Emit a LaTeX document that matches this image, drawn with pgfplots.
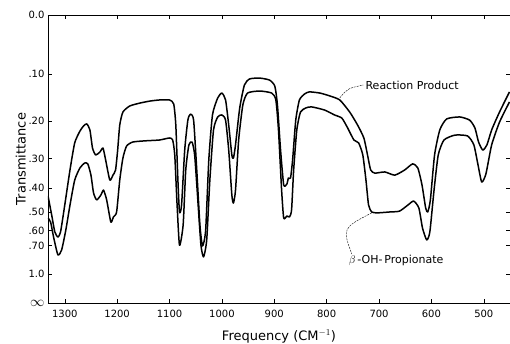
\documentclass[border=0pt]{standalone}
\usepackage{fontspec}
\setmainfont{DejaVu Sans}
\usepackage{pgfplots}
\pgfplotsset{compat=1.18}
\begin{document}
\begin{tikzpicture}
\begin{axis}[name=ax,
  scale only axis, width=462pt, height=288pt,
  x dir=reverse, xmin=450, xmax=1332, ymin=0, ymax=1,
  xtick={500,600,...,1300},
  ytick={0,0.1,0.1995,0.2512,0.3162,0.3981,0.5012,0.631,0.7943,1},
  yticklabels={{\fontsize{14}{14}\selectfont$\infty$},1.0,.70,.60,.50,.40,.30,.20,.10,0.0},
  /pgf/number format/1000 sep={},
  /pgf/number format/assume math mode=true,
  tick label style={font=\fontsize{10}{12}\selectfont},
  xticklabel style={yshift=-4pt},
  xlabel={Frequency (CM$^{-1}$)},
  ylabel={Transmittance},
  label style={font=\fontsize{13}{15}\selectfont},
  xlabel style={yshift=-5pt},
  ylabel style={yshift=-4pt},
  axis line style={line width=0.5pt},
  tick style={line width=0.5pt, black},
  major tick length=4pt,
]
% Reaction Product
\addplot[black, line width=1.5pt, smooth, tension=0.35, line join=round, no markers] coordinates {
(1332,0.372)(1325,0.306)(1319,0.247)(1313,0.229)(1308,0.247)(1300,0.340)(1290,0.462)(1281,0.556)
(1271,0.597)(1264,0.615)(1258,0.622)(1252,0.601)(1247,0.538)(1241,0.514)(1233,0.524)(1227,0.538)
(1222,0.497)(1214,0.427)(1208,0.444)(1203,0.462)(1199,0.531)(1195,0.618)(1189,0.663)(1176,0.684)
(1157,0.694)(1138,0.701)(1119,0.705)(1100,0.705)(1092,0.691)(1088,0.618)(1084,0.427)(1081,0.316)
(1077,0.340)(1071,0.531)(1065,0.635)(1060,0.656)(1054,0.635)(1048,0.462)(1042,0.271)(1037,0.198)
(1031,0.253)(1025,0.497)(1018,0.653)(1008,0.712)(1000,0.729)(993,0.705)(987,0.618)(981,0.514)
(978,0.503)(974,0.549)(966,0.677)(957,0.757)(947,0.778)(928,0.781)(909,0.774)(899,0.753)
(894,0.688)(888,0.531)(882,0.410)(876,0.413)(873,0.434)(869,0.434)(865,0.497)(859,0.635)
(852,0.705)(842,0.726)(833,0.733)(813,0.729)(794,0.719)(775,0.705)(756,0.663)(741,0.618)
(729,0.573)(722,0.514)(716,0.462)(708,0.451)(689,0.455)(670,0.444)(651,0.462)(636,0.483)
(626,0.469)(618,0.410)(611,0.330)(607,0.316)(602,0.358)(594,0.514)(584,0.601)(571,0.639)
(546,0.646)(527,0.635)(517,0.608)(510,0.559)(502,0.531)(494,0.549)(485,0.601)(470,0.663)(451,0.733)
};
% beta-OH-Propionate
\addplot[black, line width=1.5pt, smooth, tension=0.35, line join=round, no markers] coordinates {
(1332,0.295)(1327,0.281)(1321,0.226)(1313,0.167)(1306,0.184)(1298,0.253)(1290,0.340)(1281,0.427)
(1271,0.469)(1262,0.486)(1256,0.483)(1250,0.444)(1245,0.382)(1239,0.358)(1231,0.375)(1226,0.392)
(1220,0.358)(1212,0.281)(1207,0.299)(1201,0.316)(1195,0.427)(1189,0.503)(1182,0.545)(1170,0.559)
(1147,0.563)(1119,0.566)(1100,0.573)(1094,0.566)(1090,0.514)(1086,0.358)(1081,0.201)(1074,0.271)
(1069,0.462)(1063,0.549)(1057,0.559)(1052,0.514)(1046,0.358)(1040,0.201)(1035,0.160)(1029,0.219)
(1023,0.427)(1016,0.601)(1008,0.646)(1000,0.653)(993,0.635)(987,0.531)(981,0.375)(978,0.347)
(974,0.392)(968,0.566)(960,0.688)(951,0.729)(928,0.736)(905,0.729)(897,0.705)(892,0.601)
(886,0.392)(882,0.295)(876,0.302)(871,0.299)(867,0.323)(863,0.462)(857,0.601)(850,0.663)
(840,0.677)(829,0.681)(804,0.670)(785,0.653)(771,0.642)(760,0.608)(748,0.566)(739,0.556)
(731,0.514)(725,0.427)(720,0.340)(714,0.316)(703,0.313)(680,0.316)(661,0.319)(645,0.340)
(634,0.354)(624,0.330)(617,0.260)(609,0.219)(603,0.247)(595,0.392)(587,0.514)(576,0.566)
(555,0.583)(531,0.580)(519,0.549)(511,0.479)(504,0.420)(496,0.448)(485,0.549)(470,0.628)(451,0.698)
};
\draw[thin, dash pattern=on 2pt off 1pt] (axis cs:775,0.712) .. controls (axis cs:760,0.745) .. (axis cs:730,0.757);
\node[anchor=west, font=\fontsize{11}{13}\selectfont, inner sep=1pt] at (axis cs:728,0.757) {Reaction Product};
\draw[thin, dash pattern=on 2pt off 1pt] (axis cs:714,0.313) .. controls (axis cs:770,0.26) .. (axis cs:752,0.17);
\node[anchor=west, font=\fontsize{11}{13}\selectfont, inner sep=1pt] at (axis cs:760,0.149) {$\beta$\,-OH-\,Propionate};
\end{axis}
\pgfresetboundingbox
\path[use as bounding box] ([xshift=-48pt,yshift=-40pt]ax.south west) rectangle ([yshift=15pt]ax.north east);
\end{tikzpicture}
\end{document}
